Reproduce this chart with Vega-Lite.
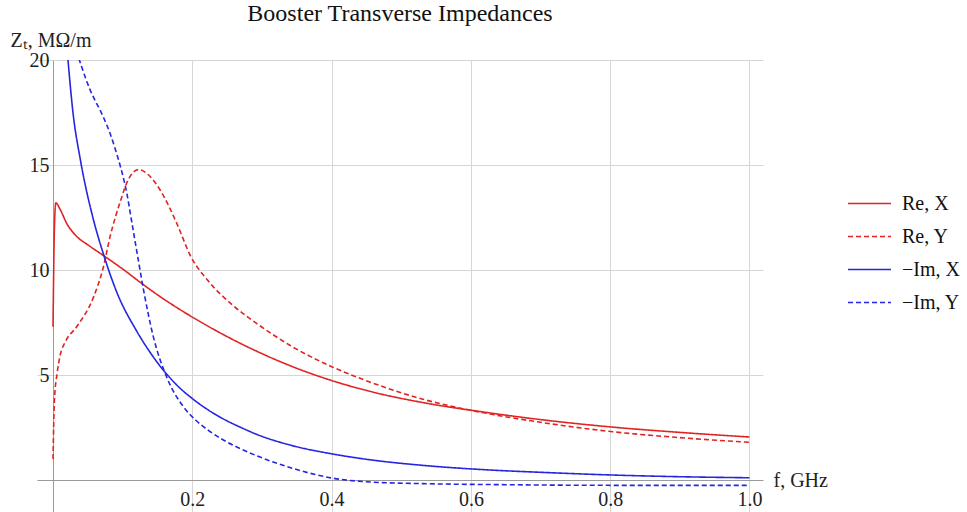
{
  "$schema": "https://vega.github.io/schema/vega-lite/v6.json",
  "width": 726,
  "height": 452,
  "autosize": "none",
  "padding": {"left": 37, "top": 60, "right": 204, "bottom": 0},
  "background": "white",
  "title": {
    "text": "Booster Transverse Impedances",
    "font": "Liberation Serif",
    "fontSize": 24,
    "fontWeight": "normal",
    "color": "#111111",
    "anchor": "middle",
    "frame": "group",
    "offset": 4
  },
  "config": {
    "view": {"stroke": null},
    "legend": {
      "orient": "none",
      "legendX": 810,
      "legendY": 121,
      "padding": 0,
      "symbolType": "stroke",
      "symbolSize": 1849,
      "symbolStrokeWidth": 1.6,
      "labelFont": "Liberation Serif",
      "labelFontSize": 20,
      "labelColor": "#111111",
      "labelOffset": 10,
      "rowPadding": -9
    },
    "axis": {
      "labelFont": "Liberation Serif",
      "labelFontSize": 20,
      "labelColor": "#222222",
      "titleFont": "Liberation Serif",
      "titleFontSize": 20,
      "titleFontWeight": "normal",
      "titleColor": "#222222",
      "gridColor": "#d6d6d6",
      "gridWidth": 1,
      "domainColor": "#9a9a9a",
      "ticks": false,
      "labelFlush": false
    }
  },
  "data": {
    "values": [
      {"s": "Re, X", "f": 0.0, "z": 7.3},
      {"s": "Re, X", "f": 0.002, "z": 12.0},
      {"s": "Re, X", "f": 0.004, "z": 13.2},
      {"s": "Re, X", "f": 0.01, "z": 12.9},
      {"s": "Re, X", "f": 0.02, "z": 12.2},
      {"s": "Re, X", "f": 0.034, "z": 11.6},
      {"s": "Re, X", "f": 0.05, "z": 11.2},
      {"s": "Re, X", "f": 0.072, "z": 10.7},
      {"s": "Re, X", "f": 0.1, "z": 10.05},
      {"s": "Re, X", "f": 0.125, "z": 9.42},
      {"s": "Re, X", "f": 0.15, "z": 8.82},
      {"s": "Re, X", "f": 0.175, "z": 8.27},
      {"s": "Re, X", "f": 0.2, "z": 7.76},
      {"s": "Re, X", "f": 0.225, "z": 7.28},
      {"s": "Re, X", "f": 0.25, "z": 6.83},
      {"s": "Re, X", "f": 0.275, "z": 6.41},
      {"s": "Re, X", "f": 0.3, "z": 6.02},
      {"s": "Re, X", "f": 0.34, "z": 5.45},
      {"s": "Re, X", "f": 0.4, "z": 4.74},
      {"s": "Re, X", "f": 0.459, "z": 4.19},
      {"s": "Re, X", "f": 0.531, "z": 3.69},
      {"s": "Re, X", "f": 0.62, "z": 3.23},
      {"s": "Re, X", "f": 0.7, "z": 2.88},
      {"s": "Re, X", "f": 0.804, "z": 2.52},
      {"s": "Re, X", "f": 0.9, "z": 2.27},
      {"s": "Re, X", "f": 1.0, "z": 2.05},

      {"s": "Re, Y", "f": 0.0, "z": 1.0},
      {"s": "Re, Y", "f": 0.002, "z": 3.8},
      {"s": "Re, Y", "f": 0.006, "z": 5.1},
      {"s": "Re, Y", "f": 0.01, "z": 5.9},
      {"s": "Re, Y", "f": 0.018, "z": 6.6},
      {"s": "Re, Y", "f": 0.034, "z": 7.3},
      {"s": "Re, Y", "f": 0.058, "z": 8.7},
      {"s": "Re, Y", "f": 0.072, "z": 10.1},
      {"s": "Re, Y", "f": 0.082, "z": 11.6},
      {"s": "Re, Y", "f": 0.096, "z": 13.2},
      {"s": "Re, Y", "f": 0.108, "z": 14.3},
      {"s": "Re, Y", "f": 0.123, "z": 14.78},
      {"s": "Re, Y", "f": 0.138, "z": 14.5},
      {"s": "Re, Y", "f": 0.154, "z": 13.8},
      {"s": "Re, Y", "f": 0.178, "z": 12.2},
      {"s": "Re, Y", "f": 0.197, "z": 10.7},
      {"s": "Re, Y", "f": 0.225, "z": 9.4},
      {"s": "Re, Y", "f": 0.259, "z": 8.3},
      {"s": "Re, Y", "f": 0.297, "z": 7.35},
      {"s": "Re, Y", "f": 0.34, "z": 6.42},
      {"s": "Re, Y", "f": 0.4, "z": 5.4},
      {"s": "Re, Y", "f": 0.459, "z": 4.62},
      {"s": "Re, Y", "f": 0.531, "z": 3.85},
      {"s": "Re, Y", "f": 0.627, "z": 3.15},
      {"s": "Re, Y", "f": 0.7, "z": 2.75},
      {"s": "Re, Y", "f": 0.804, "z": 2.3},
      {"s": "Re, Y", "f": 0.9, "z": 2.02},
      {"s": "Re, Y", "f": 1.0, "z": 1.8},

      {"s": "−Im, X", "f": 0.019, "z": 21.0},
      {"s": "−Im, X", "f": 0.0215, "z": 20.0},
      {"s": "−Im, X", "f": 0.029, "z": 17.4},
      {"s": "−Im, X", "f": 0.039, "z": 15.3},
      {"s": "−Im, X", "f": 0.058, "z": 12.4},
      {"s": "−Im, X", "f": 0.072, "z": 10.8},
      {"s": "−Im, X", "f": 0.0915, "z": 8.95},
      {"s": "−Im, X", "f": 0.12, "z": 7.1},
      {"s": "−Im, X", "f": 0.14, "z": 6.05},
      {"s": "−Im, X", "f": 0.158, "z": 5.25},
      {"s": "−Im, X", "f": 0.18, "z": 4.45},
      {"s": "−Im, X", "f": 0.2, "z": 3.88},
      {"s": "−Im, X", "f": 0.22, "z": 3.4},
      {"s": "−Im, X", "f": 0.244, "z": 2.92},
      {"s": "−Im, X", "f": 0.27, "z": 2.5},
      {"s": "−Im, X", "f": 0.293, "z": 2.17},
      {"s": "−Im, X", "f": 0.34, "z": 1.67},
      {"s": "−Im, X", "f": 0.4, "z": 1.25},
      {"s": "−Im, X", "f": 0.459, "z": 0.95},
      {"s": "−Im, X", "f": 0.531, "z": 0.7},
      {"s": "−Im, X", "f": 0.627, "z": 0.48},
      {"s": "−Im, X", "f": 0.7, "z": 0.37},
      {"s": "−Im, X", "f": 0.804, "z": 0.24},
      {"s": "−Im, X", "f": 0.9, "z": 0.16},
      {"s": "−Im, X", "f": 1.0, "z": 0.11},

      {"s": "−Im, Y", "f": 0.03, "z": 20.8},
      {"s": "−Im, Y", "f": 0.053, "z": 18.6},
      {"s": "−Im, Y", "f": 0.072, "z": 17.3},
      {"s": "−Im, Y", "f": 0.082, "z": 16.5},
      {"s": "−Im, Y", "f": 0.089, "z": 15.8},
      {"s": "−Im, Y", "f": 0.097, "z": 14.9},
      {"s": "−Im, Y", "f": 0.106, "z": 13.65},
      {"s": "−Im, Y", "f": 0.113, "z": 12.3},
      {"s": "−Im, Y", "f": 0.12, "z": 10.95},
      {"s": "−Im, Y", "f": 0.13, "z": 9.05},
      {"s": "−Im, Y", "f": 0.144, "z": 6.83},
      {"s": "−Im, Y", "f": 0.163, "z": 4.92},
      {"s": "−Im, Y", "f": 0.187, "z": 3.5},
      {"s": "−Im, Y", "f": 0.205, "z": 2.85},
      {"s": "−Im, Y", "f": 0.225, "z": 2.32},
      {"s": "−Im, Y", "f": 0.244, "z": 1.92},
      {"s": "−Im, Y", "f": 0.27, "z": 1.48},
      {"s": "−Im, Y", "f": 0.293, "z": 1.15},
      {"s": "−Im, Y", "f": 0.34, "z": 0.6},
      {"s": "−Im, Y", "f": 0.4, "z": 0.1},
      {"s": "−Im, Y", "f": 0.459, "z": -0.1},
      {"s": "−Im, Y", "f": 0.531, "z": -0.17},
      {"s": "−Im, Y", "f": 0.65, "z": -0.22},
      {"s": "−Im, Y", "f": 0.8, "z": -0.25},
      {"s": "−Im, Y", "f": 1.0, "z": -0.25}
    ]
  },
  "mark": {"type": "line", "strokeWidth": 1.6, "interpolate": "monotone", "clip": true},
  "encoding": {
    "x": {
      "field": "f",
      "type": "quantitative",
      "scale": {"domain": [-0.023, 1.0194], "nice": false, "zero": false},
      "axis": {
        "values": [0.2, 0.4, 0.6, 0.8, 1.0],
        "format": ".1f",
        "offset": -32,
        "grid": true,
        "labelPadding": 9,
        "title": "f, GHz",
        "titleAngle": 0,
        "titleX": 736,
        "titleY": 0,
        "titleAlign": "left",
        "titleBaseline": "middle"
      }
    },
    "y": {
      "field": "z",
      "type": "quantitative",
      "scale": {"domain": [-1.52, 20], "nice": false, "zero": false},
      "axis": {
        "values": [5, 10, 15, 20],
        "offset": -16,
        "grid": true,
        "labelPadding": 4,
        "title": "Zₜ, MΩ/m",
        "titleAngle": 0,
        "titleX": -43,
        "titleY": -20,
        "titleAlign": "left",
        "titleBaseline": "middle"
      }
    },
    "color": {
      "field": "s",
      "type": "nominal",
      "scale": {"domain": ["Re, X", "Re, Y", "−Im, X", "−Im, Y"], "range": ["#e02424", "#e02424", "#2626e0", "#2626e0"]},
      "legend": {"title": null}
    },
    "strokeDash": {
      "field": "s",
      "type": "nominal",
      "scale": {"domain": ["Re, X", "Re, Y", "−Im, X", "−Im, Y"], "range": [[1, 0], [5, 3], [1, 0], [5, 3]]},
      "legend": {"title": null}
    }
  }
}
